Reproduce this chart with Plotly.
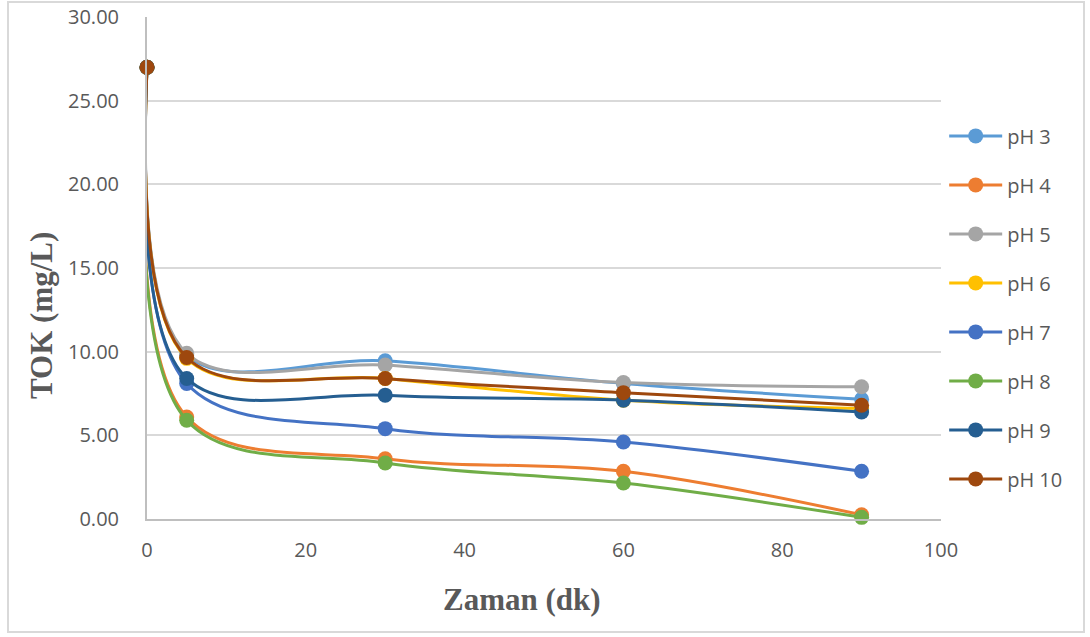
import plotly.graph_objects as go

time_min = [0, 5, 30, 60, 90]
series_names = ["pH 3", "pH 4", "pH 5", "pH 6", "pH 7", "pH 8", "pH 9", "pH 10"]
ph3 = [27.0, 9.8, 9.45, 8.1, 7.15]
ph4 = [27.0, 6.1, 3.6, 2.85, 0.25]
ph5 = [27.0, 9.9, 9.2, 8.15, 7.9]
ph6 = [27.0, 9.6, 8.4, 7.1, 6.6]
ph7 = [27.0, 8.1, 5.4, 4.6, 2.85]
ph8 = [27.0, 5.9, 3.35, 2.15, 0.1]
ph9 = [27.0, 8.4, 7.4, 7.1, 6.4]
ph10 = [27.0, 9.65, 8.4, 7.55, 6.8]
series_values = [ph3, ph4, ph5, ph6, ph7, ph8, ph9, ph10]
colors = ["#5B9BD5", "#ED7D31", "#A5A5A5", "#FFC000", "#4472C4", "#70AD47", "#255E91", "#9E480E"]

fig = go.Figure()
for name, vals, col in zip(series_names, series_values, colors):
    fig.add_trace(go.Scatter(
        x=time_min, y=vals, name=name, legendgroup=name,
        mode="lines+markers", cliponaxis=False,
        line=dict(color=col, width=3, shape="spline", smoothing=1.0),
        marker=dict(color=col, size=15),
    ))

text_col = "#595959"
fig.update_layout(
    width=1090, height=637,
    margin=dict(l=147, r=149, t=17, b=118),
    paper_bgcolor="white", plot_bgcolor="white",
    font=dict(family="Open Sans", size=20, color=text_col),
    showlegend=True,
    legend=dict(
        x=1.004, xanchor="left", y=0.802, yanchor="top",
        font=dict(family="Open Sans", size=20, color=text_col),
        tracegroupgap=20, itemwidth=53, bgcolor="rgba(0,0,0,0)",
    ),
    xaxis=dict(
        range=[0, 100], dtick=20, tick0=0, automargin=False,
        showgrid=False, zeroline=False,
        showline=True, linecolor="#BFBFBF", linewidth=2,
        ticks="", ticklabelstandoff=12,
        tickfont=dict(family="Open Sans", size=20, color=text_col),
    ),
    yaxis=dict(
        range=[0, 30], dtick=5, tick0=0, tickformat=".2f", automargin=False,
        showgrid=True, gridcolor="#D9D9D9", gridwidth=1.5,
        zeroline=False,
        showline=True, linecolor="#BFBFBF", linewidth=2,
        ticks="", ticklabelstandoff=22,
        tickfont=dict(family="Open Sans", size=20, color=text_col),
    ),
    annotations=[
        dict(text="Zaman (dk)", xref="paper", yref="paper",
             x=(522 - 147) / 794, y=(519 - 599) / 502,
             xanchor="center", yanchor="middle", showarrow=False,
             font=dict(family="Liberation Serif", size=31, color=text_col, weight="bold")),
        dict(text="TOK (mg/L)", xref="paper", yref="paper",
             x=(41 - 147) / 794, y=(519 - 316) / 502, textangle=-90,
             xanchor="center", yanchor="middle", showarrow=False,
             font=dict(family="Liberation Serif", size=31, color=text_col, weight="bold")),
    ],
    shapes=[
        dict(type="rect", xref="paper", yref="paper",
             x0=(8 - 147) / 794, x1=(1084 - 147) / 794,
             y0=(519 - 632) / 502, y1=(519 - 2) / 502,
             line=dict(color="#D9D9D9", width=2), fillcolor="rgba(0,0,0,0)", layer="below"),
    ],
)

fig.write_html("out.html")
